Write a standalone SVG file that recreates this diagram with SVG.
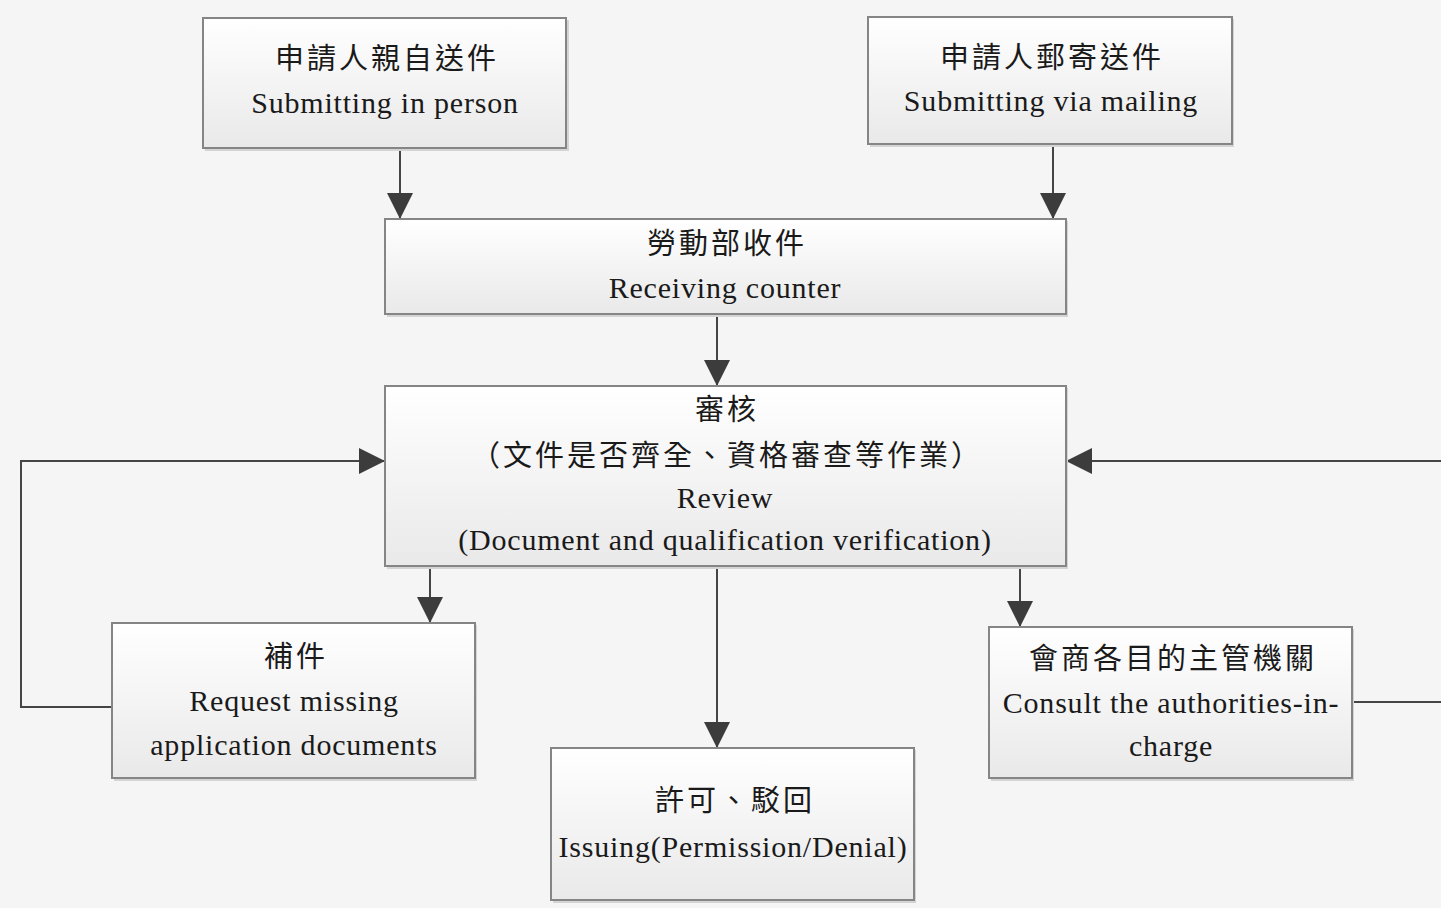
<svg xmlns="http://www.w3.org/2000/svg" width="1441" height="908" viewBox="0 0 1441 908">
<defs>
  <linearGradient id="boxg" x1="0" y1="0" x2="0" y2="1">
    <stop offset="0" stop-color="#ffffff"/>
    <stop offset="1" stop-color="#e9e9e9"/>
  </linearGradient>
  <marker id="arr" viewBox="0 0 26 26" refX="26" refY="13" markerWidth="26" markerHeight="26" markerUnits="userSpaceOnUse" orient="auto">
    <path d="M0,0 L26,13 L0,26 Z" fill="#3c3c3c"/>
  </marker>
</defs>
<style>
  .box { fill: url(#boxg); stroke: #858585; stroke-width: 2; }
  .shadow { fill: #d4d4d4; }
  .zh { font-family: "Noto Sans CJK TC", "Noto Sans CJK SC", sans-serif; font-size: 29px; fill: #1a1a1a; text-anchor: middle; letter-spacing: 3px; }
  .en { font-family: "Liberation Serif", "Times New Roman", serif; font-size: 30px; fill: #1a1a1a; text-anchor: middle; letter-spacing: 0.8px; }
  .edge { fill: none; stroke: #454545; stroke-width: 2; }
</style>
<rect width="1441" height="908" fill="#f5f5f5"/>

<g id="connectors">
  <path class="edge" d="M400,149 V219" marker-end="url(#arr)"/>
  <path class="edge" d="M1053,145 V219" marker-end="url(#arr)"/>
  <path class="edge" d="M717,315 V386" marker-end="url(#arr)"/>
  <path class="edge" d="M430,567 V623" marker-end="url(#arr)"/>
  <path class="edge" d="M717,567 V748" marker-end="url(#arr)"/>
  <path class="edge" d="M1020,567 V627" marker-end="url(#arr)"/>
  <path class="edge" d="M112,707 H21 V461 H385" marker-end="url(#arr)"/>
  <path class="edge" d="M1352,702 H1450 V461 H1066" marker-end="url(#arr)"/>
</g>

<g id="node-in-person">
  <rect class="shadow" x="205" y="20" width="364" height="131"/>
  <rect class="box" x="203" y="18" width="363" height="130"/>
  <text class="zh" x="387" y="69">申請人親自送件</text>
  <text class="en" x="385" y="113">Submitting in person</text>
</g>

<g id="node-mailing">
  <rect class="shadow" x="870" y="19" width="364" height="128"/>
  <rect class="box" x="868" y="17" width="364" height="127"/>
  <text class="zh" x="1052" y="68">申請人郵寄送件</text>
  <text class="en" x="1051" y="111">Submitting via mailing</text>
</g>

<g id="node-receiving">
  <rect class="shadow" x="387" y="221" width="681" height="96"/>
  <rect class="box" x="385" y="219" width="681" height="95"/>
  <text class="zh" x="727" y="254">勞動部收件</text>
  <text class="en" x="725" y="298">Receiving counter</text>
</g>

<g id="node-review">
  <rect class="shadow" x="387" y="388" width="681" height="181"/>
  <rect class="box" x="385" y="386" width="681" height="180"/>
  <text class="zh" x="727" y="420">審核</text>
  <text class="zh" x="727" y="466">（文件是否齊全、資格審查等作業）</text>
  <text class="en" x="725" y="508">Review</text>
  <text class="en" x="725" y="550">(Document and qualification verification)</text>
</g>

<g id="node-missing">
  <rect class="shadow" x="114" y="625" width="363" height="156"/>
  <rect class="box" x="112" y="623" width="363" height="155"/>
  <text class="zh" x="296" y="667">補件</text>
  <text class="en" x="294" y="711">Request missing</text>
  <text class="en" x="294" y="755">application documents</text>
</g>

<g id="node-issuing">
  <rect class="shadow" x="553" y="750" width="363" height="153"/>
  <rect class="box" x="551" y="748" width="363" height="152"/>
  <text class="zh" x="735" y="811">許可、駁回</text>
  <text class="en" x="733" y="857">Issuing(Permission/Denial)</text>
</g>

<g id="node-consult">
  <rect class="shadow" x="991" y="629" width="363" height="152"/>
  <rect class="box" x="989" y="627" width="363" height="151"/>
  <text class="zh" x="1173" y="669">會商各目的主管機關</text>
  <text class="en" x="1171" y="713">Consult the authorities-in-</text>
  <text class="en" x="1171" y="756">charge</text>
</g>
</svg>
